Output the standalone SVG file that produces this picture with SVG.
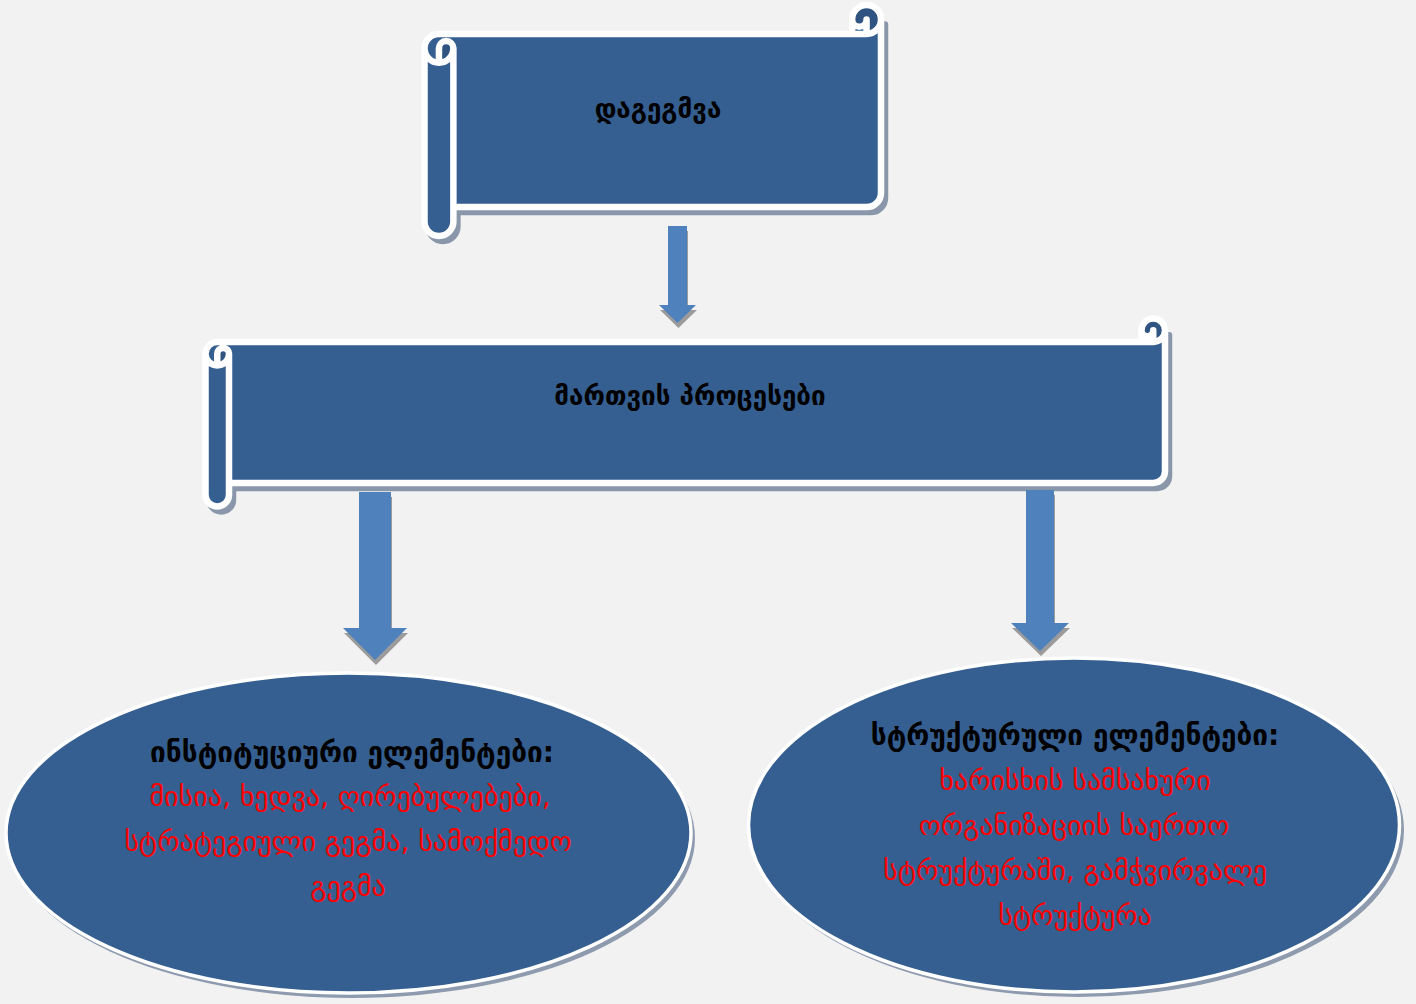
<svg xmlns="http://www.w3.org/2000/svg" width="1416" height="1004" viewBox="0 0 1416 1004">
<defs>
<style>
.bg{fill:#f2f2f2}
.sh{fill:#8a97aa;stroke:#8a97aa;stroke-width:6.5;stroke-linejoin:round}
.fa{fill:#365f91}
.fb{fill:#2f5482}
.st{fill:none;stroke:#ffffff;stroke-width:6.5;stroke-linejoin:round;stroke-linecap:round}
.arr{fill:#4f81bd}
.ash{fill:#9b9b9b}
.esh{fill:#8e9aae}
.ell{fill:#365f91;stroke:#ffffff;stroke-width:3.5}
.t{font-family:"DejaVu Sans","Noto Sans",sans-serif;font-size:28px;text-anchor:middle}
.s{font-size:26px}
.b{fill:#000000;font-weight:bold}
.r{fill:#ff0000}
</style>
<path id="topA" d="M 456.5 14.44 A 14.44 14.44 0 0 1 442.06 28.88 L 442.06 14.44 A 7.22 7.22 0 0 1 427.62 14.44 L 427.62 28.88 L 14.44 28.88 A 14.44 14.44 0 0 0 0 43.32 L 0 216.56 A 14.44 14.44 0 0 0 28.88 216.56 L 28.88 202.12 L 442.06 202.12 A 14.44 14.44 0 0 0 456.5 187.68 Z"/>
<path id="topB" d="M 14.44 57.76 A 14.44 14.44 0 0 0 28.88 43.32 A 7.22 7.22 0 0 0 14.44 43.32 Z M 442.06 28.88 A 14.44 14.44 0 1 0 427.62 14.44 A 7.22 7.22 0 0 0 442.06 14.44 Z"/>
<path id="topC" d="M 0 43.32 A 14.44 14.44 0 0 1 14.44 28.88 L 427.62 28.88 L 427.62 14.44 A 14.44 14.44 0 0 1 456.5 14.44 L 456.5 187.68 A 14.44 14.44 0 0 1 442.06 202.12 L 28.88 202.12 L 28.88 216.56 A 14.44 14.44 0 0 1 0 216.56 Z M 427.62 28.88 L 442.06 28.88 A 14.44 14.44 0 0 0 456.5 14.44 M 442.06 28.88 L 442.06 14.44 A 7.22 7.22 0 0 1 427.62 14.44 M 14.44 57.76 L 14.44 43.32 A 7.22 7.22 0 0 1 28.88 43.32 A 14.44 14.44 0 0 1 0 43.32 M 28.88 43.32 L 28.88 202.12"/>
<path id="midA" d="M 959.5 11.75 A 11.75 11.75 0 0 1 947.75 23.5 L 947.75 11.75 A 5.875 5.875 0 0 1 936 11.75 L 936 23.5 L 11.75 23.5 A 11.75 11.75 0 0 0 0 35.25 L 0 176.25 A 11.75 11.75 0 0 0 23.5 176.25 L 23.5 164.5 L 947.75 164.5 A 11.75 11.75 0 0 0 959.5 152.75 Z"/>
<path id="midB" d="M 11.75 47 A 11.75 11.75 0 0 0 23.5 35.25 A 5.875 5.875 0 0 0 11.75 35.25 Z M 947.75 23.5 A 11.75 11.75 0 1 0 936 11.75 A 5.875 5.875 0 0 0 947.75 11.75 Z"/>
<path id="midC" d="M 0 35.25 A 11.75 11.75 0 0 1 11.75 23.5 L 936 23.5 L 936 11.75 A 11.75 11.75 0 0 1 959.5 11.75 L 959.5 152.75 A 11.75 11.75 0 0 1 947.75 164.5 L 23.5 164.5 L 23.5 176.25 A 11.75 11.75 0 0 1 0 176.25 Z M 936 23.5 L 947.75 23.5 A 11.75 11.75 0 0 0 959.5 11.75 M 947.75 23.5 L 947.75 11.75 A 5.875 5.875 0 0 1 936 11.75 M 11.75 47 L 11.75 35.25 A 5.875 5.875 0 0 1 23.5 35.25 A 11.75 11.75 0 0 1 0 35.25 M 23.5 35.25 L 23.5 164.5"/>
</defs>
<rect class="bg" x="0" y="0" width="1416" height="1004"/>

<g id="node-dagegmva">
  <g transform="translate(428.5,10)">
    <use href="#topA" class="sh"/>
  </g>
  <g transform="translate(424.5,5)">
    <use href="#topA" class="fa"/>
    <use href="#topB" class="fb"/>
    <use href="#topC" class="st"/>
  </g>
  <text class="t s b" x="658" y="118">დაგეგმვა</text>
</g>

<g id="node-martvis-procesebi">
  <g transform="translate(209.5,323.5)">
    <use href="#midA" class="sh"/>
  </g>
  <g transform="translate(205.5,318.5)">
    <use href="#midA" class="fa"/>
    <use href="#midB" class="fb"/>
    <use href="#midC" class="st"/>
  </g>
  <text class="t s b" x="690" y="405">მართვის პროცესები</text>
</g>

<g id="connectors">
  <polygon class="ash" transform="translate(1,5)" points="668,226 687,226 687,305 696,305 677.5,323 659,305 668,305"/>
  <polygon class="arr" points="668,226 687,226 687,305 696,305 677.5,323 659,305 668,305"/>
  <polygon class="ash" transform="translate(1,5)" points="359,492 391,492 391,628 407,628 375,660 343,628 359,628"/>
  <polygon class="arr" points="359,492 391,492 391,628 407,628 375,660 343,628 359,628"/>
  <polygon class="ash" transform="translate(1,5)" points="1026,490 1054,490 1054,623 1069,623 1040,651 1011,623 1026,623"/>
  <polygon class="arr" points="1026,490 1054,490 1054,623 1069,623 1040,651 1011,623 1026,623"/>
</g>

<g id="node-institutional">
  <ellipse class="esh" cx="352" cy="838" rx="343" ry="160"/>
  <ellipse class="ell" cx="348.5" cy="833" rx="342.5" ry="160"/>
  <text class="t b" x="352" y="762">ინსტიტუციური ელემენტები:</text>
  <text class="t r" x="350" y="806">მისია, ხედვა, ღირებულებები,</text>
  <text class="t r" x="348" y="851">სტრატეგიული გეგმა, სამოქმედო</text>
  <text class="t r" x="348" y="896">გეგმა</text>
</g>

<g id="node-structural">
  <ellipse class="esh" cx="1078" cy="830" rx="326" ry="167"/>
  <ellipse class="ell" cx="1074" cy="825" rx="325.5" ry="167"/>
  <text class="t b" x="1075" y="745">სტრუქტურული ელემენტები:</text>
  <text class="t r" x="1075" y="790">ხარისხის სამსახური</text>
  <text class="t r" x="1074" y="835">ორგანიზაციის საერთო</text>
  <text class="t r" x="1075" y="880">სტრუქტურაში, გამჭვირვალე</text>
  <text class="t r" x="1075" y="925">სტრუქტურა</text>
</g>
</svg>
